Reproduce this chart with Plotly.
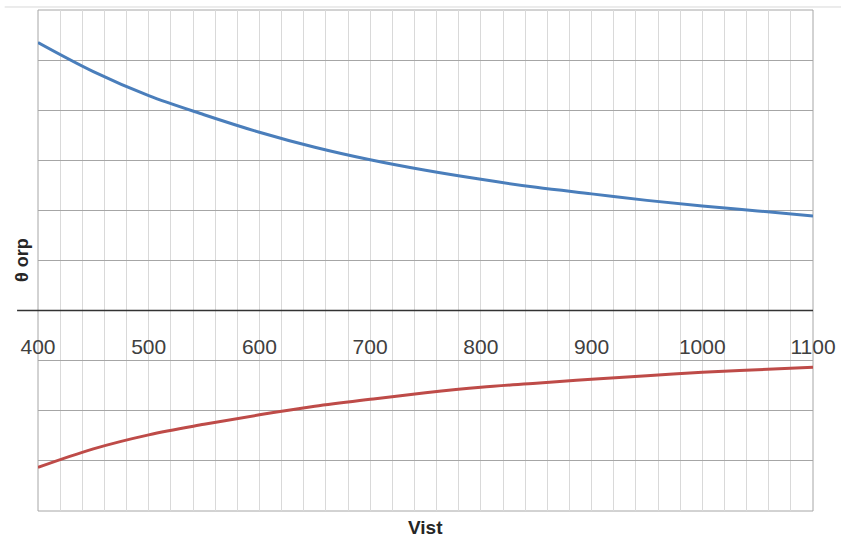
import plotly.graph_objects as go

# x values (Vist)
vist = [400, 450, 500, 550, 600, 650, 700, 750, 800, 850, 900, 950, 1000, 1050, 1100]
# upper (blue) series
theta_upper = [5.35, 4.77, 4.29, 3.91, 3.56, 3.26, 3.01, 2.80, 2.62, 2.46, 2.33, 2.20, 2.09, 1.99, 1.89]
# lower (red) series
theta_lower = [-3.13, -2.76, -2.48, -2.27, -2.08, -1.91, -1.77, -1.64, -1.53, -1.45, -1.37, -1.30, -1.23, -1.18, -1.13]

x_tickvals = [400, 500, 600, 700, 800, 900, 1000, 1100]
x_ticktext = ["400", "500", "600", "700", "800", "900", "1000", "1100"]
x_title = "Vist"
y_title = "θ orp"

FONT = "Liberation Sans, Arial, sans-serif"

fig = go.Figure()
fig.add_trace(go.Scatter(x=vist, y=theta_upper, mode="lines",
                         line=dict(color="#4A7EBB", width=3, shape="spline"),
                         showlegend=False, hoverinfo="skip"))
fig.add_trace(go.Scatter(x=vist, y=theta_lower, mode="lines",
                         line=dict(color="#BE4B48", width=3, shape="spline"),
                         showlegend=False, hoverinfo="skip"))

fig.update_layout(
    width=841, height=538,
    margin=dict(l=38, r=28, t=10, b=27),
    paper_bgcolor="white", plot_bgcolor="white",
    showlegend=False,
    xaxis=dict(
        range=[400, 1100], anchor="free", position=0.4,
        tickvals=x_tickvals, ticktext=x_ticktext,
        ticks="", ticklabelstandoff=21,
        tickfont=dict(family=FONT, size=21, color="#404040"),
        showgrid=True, gridcolor="#d9d9d9", gridwidth=1,
        minor=dict(dtick=20, tick0=400, showgrid=True, gridcolor="#d9d9d9", gridwidth=1),
        showline=False, zeroline=False, fixedrange=True, automargin=False,
    ),
    yaxis=dict(
        range=[-4, 6], dtick=1, tick0=0,
        showticklabels=False, ticks="",
        showgrid=True, gridcolor="#a6a6a6", gridwidth=1,
        zeroline=False, showline=False, fixedrange=True, automargin=False,
    ),
    shapes=[
        dict(type="rect", xref="paper", yref="paper", x0=0, x1=1, y0=0, y1=1,
             line=dict(color="#a6a6a6", width=1), layer="below"),
        dict(type="line", xref="paper", yref="y", x0=-0.027, x1=1, y0=0, y1=0,
             line=dict(color="#333333", width=1.5), layer="above"),
        dict(type="line", xref="paper", yref="paper", x0=-0.043, x1=1.04, y0=1.006, y1=1.006,
             line=dict(color="#d9d9d9", width=1)),
    ],
    annotations=[
        dict(text="<b>" + x_title + "</b>", xref="paper", yref="paper", x=0.5, y=-0.032,
             xanchor="center", yanchor="middle", showarrow=False,
             font=dict(family=FONT, size=19, color="#262626")),
        dict(text="<b>" + y_title + "</b>", xref="paper", yref="paper", x=-0.0206, y=0.501,
             xanchor="center", yanchor="middle", showarrow=False, textangle=-90,
             font=dict(family=FONT, size=18, color="#262626")),
    ],
)

fig.write_html("out.html",
               config={"displayModeBar": False, "staticPlot": True},
               post_script="document.body.style.margin='0';document.body.style.overflow='hidden';")
